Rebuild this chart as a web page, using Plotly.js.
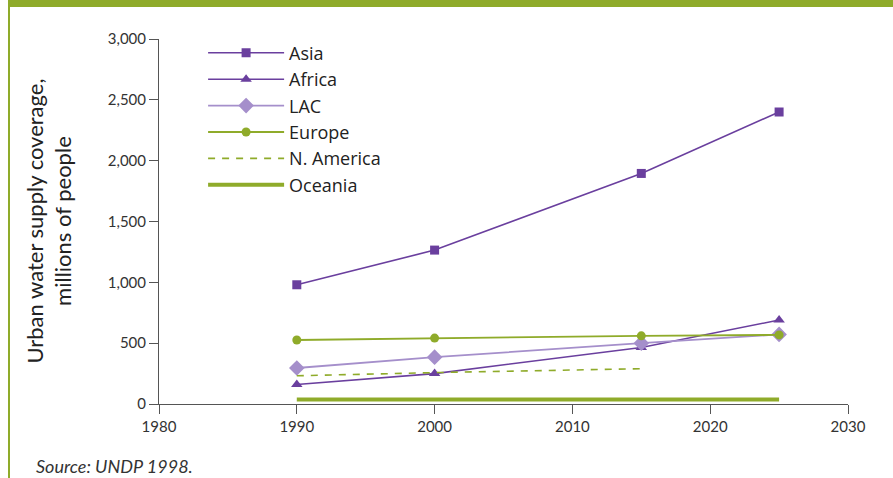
<!DOCTYPE html>
<html>
<head>
<meta charset="utf-8">
<script src="https://cdn.plot.ly/plotly-3.0.1.min.js"></script>
<style>
html,body{margin:0;padding:0;background:#fff;}
#wrap{position:relative;width:893px;height:478px;overflow:hidden;}
#chart{position:absolute;left:0;top:0;width:893px;height:478px;}
#band{position:absolute;left:8px;top:0;width:885px;height:7px;background:#8fab2a;pointer-events:none;}
#vline{position:absolute;left:8px;top:0;width:2px;height:478px;background:#8fab2a;pointer-events:none;}
</style>
</head>
<body>
<div id="wrap">
<div id="chart"></div>
<div id="band"></div>
<div id="vline"></div>
</div>
<script>
const years = [1990, 2000, 2015, 2025];
const asia = [980, 1265, 1895, 2400];
const africa = [160, 250, 465, 690];
const lac = [296, 385, 500, 572];
const europe = [526, 542, 560, 568];
const naYears = [1990, 2000, 2015];
const nAmerica = [232, 258, 290];
const ocYears = [1990, 2025];
const oceania = [38, 38];

const purple = '#6a3f9e';
const lilac = '#a58fcb';
const green = '#8fab2a';

const traces = [
  {x: years, y: asia, name: 'Asia', mode: 'lines+markers',
   line: {color: purple, width: 1.6}, marker: {symbol: 'square', size: 9, color: purple}},
  {x: years, y: africa, name: 'Africa', mode: 'lines+markers',
   line: {color: purple, width: 1.6}, marker: {symbol: 'triangle-up', size: 10, color: purple}},
  {x: years, y: lac, name: 'LAC', mode: 'lines+markers',
   line: {color: lilac, width: 1.8}, marker: {symbol: 'diamond', size: 12, color: lilac}},
  {x: years, y: europe, name: 'Europe', mode: 'lines+markers',
   line: {color: green, width: 1.8}, marker: {symbol: 'circle', size: 9, color: green}},
  {x: naYears, y: nAmerica, name: 'N. America', mode: 'lines',
   line: {color: green, width: 1.6, dash: '7px,7px'}},
  {x: ocYears, y: oceania, name: 'Oceania', mode: 'lines',
   line: {color: green, width: 4}}
];

const F = 'Lato, "Open Sans", sans-serif';
const layout = {
  width: 893, height: 478,
  margin: {l: 159, r: 45, t: 39, b: 74},
  paper_bgcolor: '#fff', plot_bgcolor: '#fff',
  font: {family: F, color: '#333'},
  showlegend: true,
  legend: {x: 0.064, y: 1.012, xanchor: 'left', yanchor: 'top',
    font: {family: '"Open Sans", Lato, sans-serif', size: 18, color: '#222'}, itemwidth: 76,
    bgcolor: 'rgba(0,0,0,0)', tracegroupgap: 0},
  xaxis: {range: [1980, 2030], dtick: 10, tick0: 1980, showgrid: false, zeroline: false,
    showline: true, linecolor: '#555', linewidth: 1, ticks: 'outside', ticklen: 9,
    tickcolor: '#555', tickfont: {size: 15, color: '#333'}, fixedrange: true},
  yaxis: {range: [0, 3000], dtick: 500, tickformat: ',', showgrid: false, zeroline: false,
    showline: true, linecolor: '#555', linewidth: 1, ticks: 'outside', ticklen: 9,
    tickcolor: '#555', tickfont: {size: 15, color: '#333'}, fixedrange: true},
  annotations: [
    {text: 'Urban water supply coverage,<br>millions of people', textangle: -90,
     xref: 'paper', yref: 'paper', x: -0.161, y: 0.5, xanchor: 'center', yanchor: 'middle',
     showarrow: false, font: {family: F, size: 22, color: '#222'}},
    {text: '<i>Source: UNDP 1998.</i>', xref: 'paper', yref: 'paper',
     x: -0.182, y: -0.17, xanchor: 'left', yanchor: 'middle', showarrow: false,
     font: {family: F, size: 18, color: '#333'}}
  ]
};
Plotly.newPlot('chart', traces, layout, {displayModeBar: false, staticPlot: true});
</script>
</body>
</html>
